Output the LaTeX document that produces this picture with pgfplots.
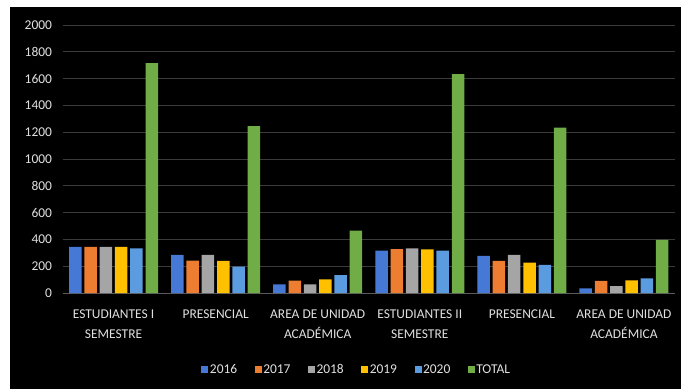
\documentclass[border=0pt]{standalone}
\usepackage{pgfplots}
\pgfplotsset{compat=1.18}
\usepackage{fontspec}
\setmainfont{Carlito}
\definecolor{c16}{HTML}{4678D6}
\definecolor{c17}{HTML}{ED7D31}
\definecolor{c18}{HTML}{A5A5A5}
\definecolor{c19}{HTML}{FFC000}
\definecolor{c20}{HTML}{5B9BE0}
\definecolor{ctot}{HTML}{70AD47}
\definecolor{gridc}{HTML}{3A3A3A}
\definecolor{axc}{HTML}{5A5A5A}
\definecolor{txt}{HTML}{E0E0E0}
\begin{document}
\begin{tikzpicture}
\fill[white] (0,0) rectangle (681bp,-389bp);
\fill[black] (10bp,-7bp) rectangle (681bp,-389bp);
\begin{axis}[
  at={(62.5bp,-293bp)}, anchor=south west,
  scale only axis, width=612.5bp, height=268bp,
  xmin=-0.5, xmax=5.5, ymin=0, ymax=2000,
  ybar=2.8bp, bar width=12.5bp,
  ytick={0,200,...,2000},
  xtick={0,1,2,3,4,5},
  xticklabels={{ESTUDIANTES I\\SEMESTRE},{PRESENCIAL},{AREA DE UNIDAD\\ACADÉMICA},{ESTUDIANTES II\\SEMESTRE},{PRESENCIAL},{AREA DE UNIDAD\\ACADÉMICA}},
  xticklabel style={align=center, font=\fontsize{13.5}{20.5}\selectfont, text=txt, yshift=-13bp, anchor=north},
  yticklabel style={font=\fontsize{13.5}{15}\selectfont, text=txt, xshift=-7bp},
  /pgf/number format/assume math mode=true,
  /pgf/number format/1000 sep={},
  major tick length=0pt,
  axis x line*=bottom, axis y line*=left,
  x axis line style={axc, line width=1bp, -},
  y axis line style={draw=none},
  ymajorgrids, grid style={gridc, line width=0.8bp},
  legend style={at={(0.4710,-0.287)}, anchor=center, draw=none, fill=none,
     text=txt, font=\fontsize{13.5}{15}\selectfont, legend columns=6,
     nodes={inner sep=1.5bp}},
  legend image code/.code={\path (0bp,0bp); \fill[#1] (11bp,-3.5bp) rectangle (18bp,3.5bp);},
]
\addplot[fill=c16, draw=none] coordinates {(0,345) (1,284) (2,65) (3,316) (4,278) (5,35)};
\addplot[fill=c17, draw=none] coordinates {(0,345) (1,241) (2,92) (3,328) (4,239) (5,90)};
\addplot[fill=c18, draw=none] coordinates {(0,345) (1,284) (2,65) (3,333) (4,284) (5,52)};
\addplot[fill=c19, draw=none] coordinates {(0,345) (1,239) (2,102) (3,326) (4,226) (5,95)};
\addplot[fill=c20, draw=none] coordinates {(0,333) (1,196) (2,134) (3,316) (4,209) (5,110)};
\addplot[fill=ctot, draw=none] coordinates {(0,1716) (1,1246) (2,465) (3,1634) (4,1234) (5,396)};
\legend{2016\hspace*{5bp},2017\hspace*{5bp},2018\hspace*{5bp},2019\hspace*{5bp},2020\hspace*{5bp},TOTAL}
\end{axis}
\end{tikzpicture}
\end{document}
